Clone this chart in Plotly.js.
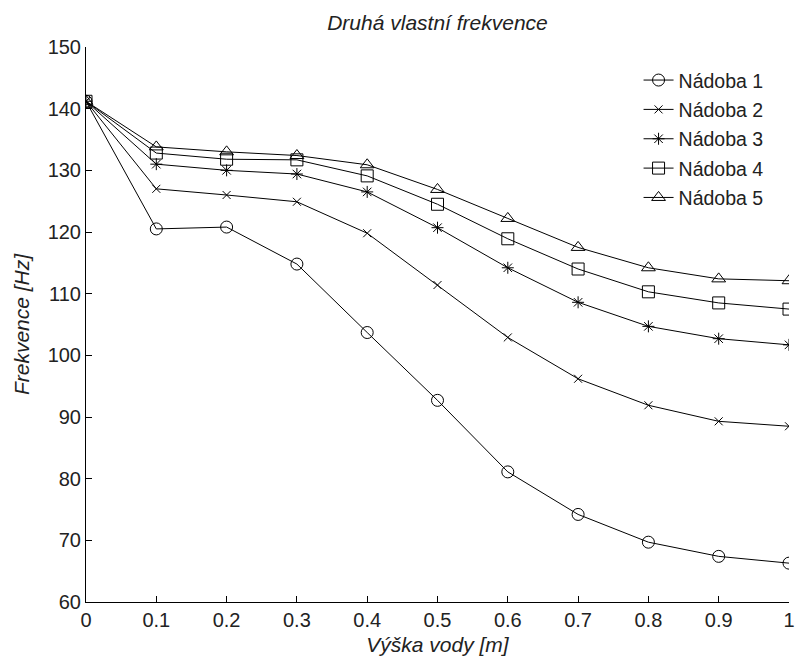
<!DOCTYPE html>
<html>
<head>
<meta charset="utf-8">
<script src="https://cdn.plot.ly/plotly-3.0.1.min.js"></script>
<style>html,body{margin:0;padding:0;background:#fff;}#chart{width:797px;height:659px;}</style>
</head>
<body>
<div id="chart"></div>
<script>
const vyska = [0, 0.1, 0.2, 0.3, 0.4, 0.5, 0.6, 0.7, 0.8, 0.9, 1.0];
const xTickLabels = ["0", "0.1", "0.2", "0.3", "0.4", "0.5", "0.6", "0.7", "0.8", "0.9", "1"];
const yTickVals = [60, 70, 80, 90, 100, 110, 120, 130, 140, 150];
const nadoba1 = [141.2, 120.5, 120.8, 114.8, 103.7, 92.7, 81.1, 74.2, 69.7, 67.4, 66.3];
const nadoba2 = [141.2, 127.0, 126.0, 124.9, 119.8, 111.4, 102.9, 96.2, 91.9, 89.3, 88.5];
const nadoba3 = [141.2, 131.0, 130.0, 129.4, 126.5, 120.7, 114.2, 108.6, 104.7, 102.7, 101.7];
const nadoba4 = [141.2, 132.8, 131.8, 131.7, 129.1, 124.5, 118.9, 114.0, 110.3, 108.5, 107.5];
const nadoba5 = [141.2, 133.8, 133.0, 132.4, 130.9, 126.9, 122.2, 117.5, 114.2, 112.4, 112.1];
const names = ["Nádoba 1", "Nádoba 2", "Nádoba 3", "Nádoba 4", "Nádoba 5"];
const series = [nadoba1, nadoba2, nadoba3, nadoba4, nadoba5];
const symbols = ["circle-open", "x-thin-open", "asterisk-open", "square-open", "triangle-up-open"];
const sizes = [12, 8, 10, 12, 12];

const traces = series.map((ys, i) => ({
  x: vyska, y: ys, name: names[i], type: "scatter", mode: "lines+markers",
  legendgroup: "g" + i,
  line: {color: "#000", width: 1},
  marker: {symbol: symbols[i], size: sizes[i], color: "#000", line: {color: "#000", width: 1}}
}));

const fontFam = "Liberation Sans, Arial, sans-serif";
const txtColor = "#222";
const layout = {
  width: 797, height: 659,
  paper_bgcolor: "#fff", plot_bgcolor: "#fff",
  margin: {l: 86, r: 8, t: 47, b: 57},
  font: {family: fontFam, color: txtColor, size: 20},
  title: {text: "<i>Druhá vlastní frekvence</i>", font: {family: fontFam, size: 21, color: txtColor},
          x: 0.5, xanchor: "center", xref: "paper", y: 1 - 23/659, yanchor: "middle", yref: "container"},
  xaxis: {
    range: [0, 1], tickvals: vyska, ticktext: xTickLabels,
    showline: true, linecolor: "#000", linewidth: 1, mirror: false,
    ticks: "inside", ticklen: 6, tickcolor: "#000", tickwidth: 1,
    showgrid: false, zeroline: false,
    tickfont: {size: 20, family: fontFam, color: txtColor},
    title: {text: "<i>Výška vody [m]</i>", font: {size: 21, family: fontFam, color: txtColor}, standoff: 7},
    automargin: false
  },
  yaxis: {
    range: [60, 150], tickvals: yTickVals,
    showline: true, linecolor: "#000", linewidth: 1, mirror: false,
    ticks: "inside", ticklen: 6, tickcolor: "#000", tickwidth: 1,
    showgrid: false, zeroline: false,
    tickfont: {size: 20, family: fontFam, color: txtColor},
    title: {text: "<i>Frekvence [Hz]</i>", font: {size: 21, family: fontFam, color: txtColor}, standoff: 12},
    automargin: false
  },
  showlegend: true,
  legend: {
    x: 0.786, xanchor: "left", y: 0.975, yanchor: "top",
    bgcolor: "#fff", borderwidth: 0,
    traceorder: "grouped", tracegroupgap: 1,
    font: {size: 19.5, family: fontFam, color: txtColor}
  }
};

Plotly.newPlot("chart", traces, layout, {displayModeBar: false, staticPlot: true});
</script>
</body>
</html>
